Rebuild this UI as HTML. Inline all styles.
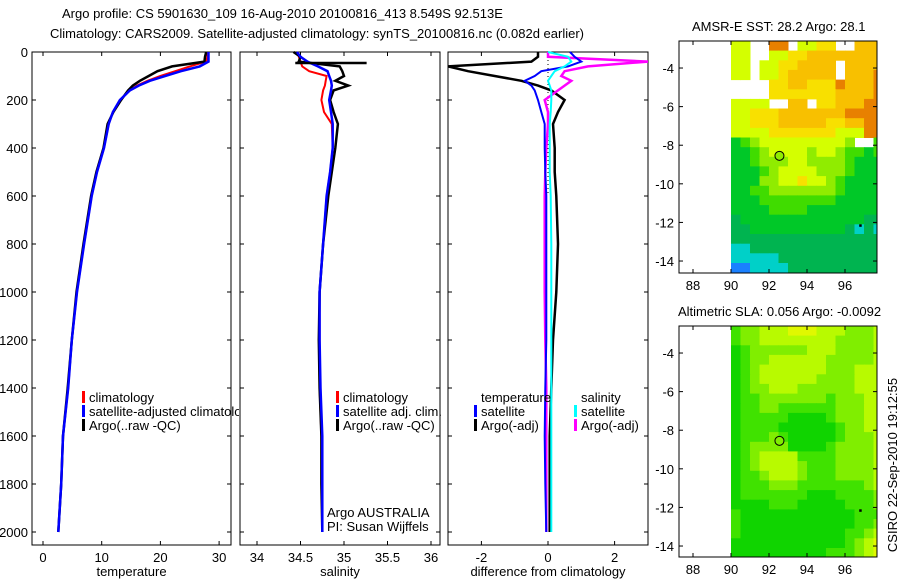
<!DOCTYPE html>
<html><head><meta charset="utf-8">
<style>
body{margin:0;background:#fff;}
svg{display:block;font-family:"Liberation Sans",sans-serif;}
text{font-size:13px;fill:#000;}
</style></head>
<body>
<svg id="c" width="900" height="580">
<defs><clipPath id="p1clip"><rect x="32" y="52" width="207" height="493"/></clipPath></defs>
<text x="62" y="18">Argo profile: CS 5901630_109 16-Aug-2010 20100816_413 8.549S 92.513E</text>
<text x="50" y="38">Climatology: CARS2009. Satellite-adjusted climatology: synTS_20100816.nc (0.082d earlier)</text>
<text x="692" y="31">AMSR-E SST: 28.2 Argo: 28.1</text>
<text x="678" y="316">Altimetric SLA: 0.056 Argo: -0.0092</text>
<text transform="translate(897,465) rotate(-90)" text-anchor="middle">CSIRO 22-Sep-2010 19:12:55</text>
</svg>
<script>
const depths=[0,20,40,60,80,100,120,140,160,200,250,300,400,500,600,800,1000,1200,1400,1600,1800,2000];
const tempClim=[28.0,28.0,27.8,25.0,22.5,20.0,17.8,16.0,14.8,13.1,11.9,11.2,10.4,9.2,8.3,7.0,5.8,4.9,4.3,3.4,3.1,2.6];
const tempSat=[28.2,28.2,28.2,26.7,23.5,20.8,18.2,16.3,14.8,13.1,11.9,11.2,10.4,9.2,8.3,7.0,5.8,4.9,4.3,3.4,3.1,2.6];
const tempArgo=[27.8,27.6,27.5,22.0,19.5,18.0,16.5,15.3,14.5,13.3,12.0,11.0,10.3,9.1,8.2,6.9,5.7,4.9,4.2,3.4,3.1,2.6];
const salClim=[34.47,34.48,34.50,34.52,34.60,34.80,34.79,34.78,34.76,34.74,34.77,34.86,34.87,34.84,34.80,34.76,34.72,34.72,34.72,34.74,34.75,34.75];
const salSat=[34.46,34.50,34.58,34.70,34.81,34.83,34.85,34.86,34.85,34.83,34.85,34.87,34.87,34.84,34.80,34.76,34.72,34.72,34.73,34.75,34.75,34.75];
const salArgo=[34.42,34.50,34.48,34.95,34.98,35.00,34.90,35.05,34.88,34.84,34.88,34.93,34.90,34.86,34.82,34.76,34.72,34.71,34.72,34.74,34.74,34.75];
const dTempSat=[0.66,0.8,1.0,0.6,-0.2,-0.4,-0.7,-0.5,-0.4,-0.3,-0.2,-0.1,-0.1,-0.08,-0.05,-0.05,-0.05,-0.05,-0.08,-0.1,-0.08,-0.05];
const dTempArgo=[-0.3,-0.3,-0.5,-3.0,-2.4,-1.6,-0.8,-0.3,0.1,0.5,0.3,0.15,0.2,0.2,0.25,0.3,0.25,0.15,0.1,0.05,0.05,0.05];
const dSalSat=[0.0,0.6,0.7,0.5,0.2,0.1,0.0,0.05,0.1,0.1,0.08,0.05,0.05,0.05,0.08,0.1,0.1,0.1,0.1,0.1,0.1,0.1];
const dSalArgo=[0.0,0.0,3.0,1.2,0.5,0.4,0.7,0.5,0.3,-0.1,0.0,0.0,-0.05,-0.08,-0.1,-0.1,-0.1,-0.08,-0.05,-0.05,-0.05,-0.05];
const depthTicks=[0,200,400,600,800,1000,1200,1400,1600,1800,2000];
const tempTicks=[0,10,20,30];
const salTicks=[34,34.5,35,35.5,36];
const diffTicks=[-2,0,2];
const lonTicks=[88,90,92,94,96];
const latTicks=[-4,-6,-8,-10,-12,-14];
const sstGrid=["66..99.6677..888","66..667788888888","66.66778888.8888","66.66788888.8889","....778877798889","....777777788889","6666..88.7788899","6677788888889999","6677788888778899","6666777777766699","3456666666665..4","3345666656654434","3345556655554333","3334566665554333","3335566766543333","3344555555543333","3334444444433333","3333444433333333","2333333333333322","2233333333332121","2222222222222222","1122222222222222","1111122222222222","0011112222222222"];
const slaGrid=["4556667776665556","4556666666655556","3455555566655556","3455666666555556","3456666666555666","3456666665555666","3455666555555666","3445555555455566","3445544444455566","3444443333455566","3444433333345566","3444543333345556","3455553333455556","3456666444455556","3456666544455556","3445666544455556","3444555444444456","3444444433344445","3333444333334445","4333333333333444","4333333333333445","4333333333334456","3333333333334567","3333333333444567"];
const sstColors={"0":"#1a80ff","1":"#00d0c8","2":"#00b450","3":"#00c828","4":"#40dc00","5":"#90ec00","6":"#d4ff00","7":"#f8e000","8":"#f8c000","9":"#e88000"};
const slaColors={"3":"#10d400","4":"#40e200","5":"#80ee00","6":"#b8fa00","7":"#e0f800"};
const argoPos=[92.55,-8.55];

const NS="http://www.w3.org/2000/svg";
const svg=document.getElementById('c');
function mk(tag,attrs,parent){const e=document.createElementNS(NS,tag);for(const k in attrs)e.setAttribute(k,attrs[k]);(parent||svg).appendChild(e);return e;}
const top0=52,bot=545;
const yD=d=>top0+(d/2000)*480;

function panel(name,x0,x1,xs,xticks,xlabel,showDepth){
  const g=mk('g',{});
  
  
  const fr=mk('rect',{x:x0,y:top0,width:x1-x0,height:bot-top0,fill:'none',stroke:'#000','stroke-width':1},g);
  
  
  depthTicks.forEach(d=>{
    const y=yD(d);
    mk('line',{x1:x0,x2:x0+4,y1:y,y2:y,stroke:'#000'},g);
    mk('line',{x1:x1-4,x2:x1,y1:y,y2:y,stroke:'#000'},g);
    if(showDepth){const t=mk('text',{x:x0-4,y:y+5,'text-anchor':'end'},g);t.textContent=d;
      
      }
  });
  xticks.forEach(v=>{
    const x=xs(v);
    mk('line',{x1:x,x2:x,y1:bot,y2:bot-4,stroke:'#000'},g);
    mk('line',{x1:x,x2:x,y1:top0,y2:top0+4,stroke:'#000'},g);
    const t=mk('text',{x:x,y:bot+17,'text-anchor':'middle'},g);t.textContent=v;
    
    
  });
  const t=mk('text',{x:(x0+x1)/2,y:bot+31,'text-anchor':'middle'},g);t.textContent=xlabel;
  
  
  return g;
}
function line(g,xs,vals,color,w,name,x0,x1){
  const clip=vals.map(v=>Math.max(x0,Math.min(x1,xs(v))));
  const p=mk('polyline',{points:depths.map((d,i)=>clip[i].toFixed(1)+','+yD(d).toFixed(1)).join(' '),fill:'none',stroke:color,'stroke-width':w},g);
  
  
}
function legend(g,x,y,items){
  items.forEach((it,i)=>{
    if(it[1]){mk('rect',{x:x,y:y+i*14-11,width:3,height:12,fill:it[1]},g);}
    const t=mk('text',{x:x+7,y:y+i*14},g);t.textContent=it[0];
    
    
  });
}
// panel 1
const xT=v=>43+v*5.87;
const g1=panel('temperature-panel',32,231,xT,tempTicks,'temperature',true);
line(g1,xT,tempClim,'#f00',2,'temp-climatology-line',32,231);
line(g1,xT,tempArgo,'#000',2.5,'temp-argo-line',32,231);
line(g1,xT,tempSat,'#00f',2.5,'temp-satellite-line',32,231);
const lg1=mk('g',{'clip-path':'url(#p1clip)'},g1);
legend(lg1,82,402,[['climatology','#f00'],['satellite-adjusted climatology','#00f'],['Argo(..raw -QC)','#000']]);
// panel 2
const xS=v=>257+(v-34)*87;
const g2=panel('salinity-panel',240,440,xS,salTicks,'salinity',false);
line(g2,xS,salClim,'#f00',2,'sal-climatology-line',240,440);
line(g2,xS,salArgo,'#000',2.5,'sal-argo-line',240,440);
line(g2,xS,salSat,'#00f',2.5,'sal-satellite-line',240,440);
mk('line',{x1:xS(34.5),x2:xS(34.46),y1:yD(42),y2:yD(45),stroke:'#000','stroke-width':2.5},g2);
mk('line',{x1:xS(34.44),x2:xS(35.26),y1:yD(46),y2:yD(46),stroke:'#000','stroke-width':2.5},g2);
legend(g2,336,402,[['climatology','#f00'],['satellite adj. clim.','#00f'],['Argo(..raw -QC)','#000']]);
legend(g2,320,517,[['Argo AUSTRALIA',null],['PI: Susan Wijffels',null]]);
// panel 3
const xDf=v=>548+v*33.3;
const g3=panel('difference-panel',448,648,xDf,diffTicks,'difference from climatology',false);
mk('line',{x1:548,x2:548,y1:top0+4,y2:yD(600),stroke:'#000','stroke-dasharray':'1,3'},g3);
line(g3,xDf,dTempArgo,'#000',2.5,'diff-temp-argo-line',448,648);
line(g3,xDf,dSalArgo,'#f0f',2.5,'diff-sal-argo-line',448,648);
line(g3,xDf,dTempSat,'#00f',2,'diff-temp-satellite-line',448,648);
line(g3,xDf,dSalSat,'#0ff',2,'diff-sal-satellite-line',448,648);
legend(g3,474,402,[['temperature',null],['satellite','#00f'],['Argo(-adj)','#000']]);
legend(g3,574,402,[['salinity',null],['satellite','#0ff'],['Argo(-adj)','#f0f']]);

// maps
function map(name,top,bottom,latTop,latPx,grid,colors){
  const g=mk('g',{});
  
  
  const L=679,R=877;
  const xL=v=>693+(v-88)*19;
  const yL=v=>top+(latTop-v)*latPx;
  const cp=mk('clipPath',{id:name+'-clip'},g);
  mk('rect',{x:L,y:top,width:R-L,height:bottom-top},cp);
  const cg=mk('g',{'clip-path':'url(#'+name+'-clip)'},g);
  grid.forEach((row,r)=>{
    for(let c=0;c<row.length;c++){
      const ch=row[c]; if(!colors[ch]) continue;
      const lon=90+c*0.5, lat=-2.6-r*0.5;
      const x=xL(lon),y=yL(lat);
      const cell=mk('rect',{x:x.toFixed(1),y:y.toFixed(1),width:(xL(lon+0.5)-x+0.5).toFixed(1),height:(yL(lat-0.5)-y+0.5).toFixed(1),fill:colors[ch]},cg);
      
      
    }
  });
  const ar=Math.round((-2.6-argoPos[1])/0.5), ac=Math.round((argoPos[0]-90)/0.5);
  const circ=mk('circle',{cx:xL(argoPos[0]),cy:yL(argoPos[1]),r:4.5,fill:colors[grid[ar][ac]]||'#fff',stroke:'#000','stroke-width':1},g);
  
  
  mk('rect',{x:xL(96.8)-1,y:yL(-12.15)-1,width:2.5,height:2.5,fill:'#000'},g);
  mk('rect',{x:L,y:top,width:R-L,height:bottom-top,fill:'none',stroke:'#000'},g);
  lonTicks.forEach(v=>{const x=xL(v);
    mk('line',{x1:x,x2:x,y1:bottom,y2:bottom-4,stroke:'#000'},g);
    mk('line',{x1:x,x2:x,y1:top,y2:top+4,stroke:'#000'},g);
    const t=mk('text',{x:x,y:bottom+17,'text-anchor':'middle'},g);t.textContent=v;
    
    });
  latTicks.forEach(v=>{const y=yL(v);
    mk('line',{x1:L,x2:L+4,y1:y,y2:y,stroke:'#000'},g);
    mk('line',{x1:R-4,x2:R,y1:y,y2:y,stroke:'#000'},g);
    const t=mk('text',{x:L-5,y:y+5,'text-anchor':'end'},g);t.textContent=v;
    
    });
}
map('sst-map',41,273,-2.6,19.3,sstGrid,sstColors);
map('sla-map',326,557,-2.6,19.3,slaGrid,slaColors);
</script>
</body></html>
